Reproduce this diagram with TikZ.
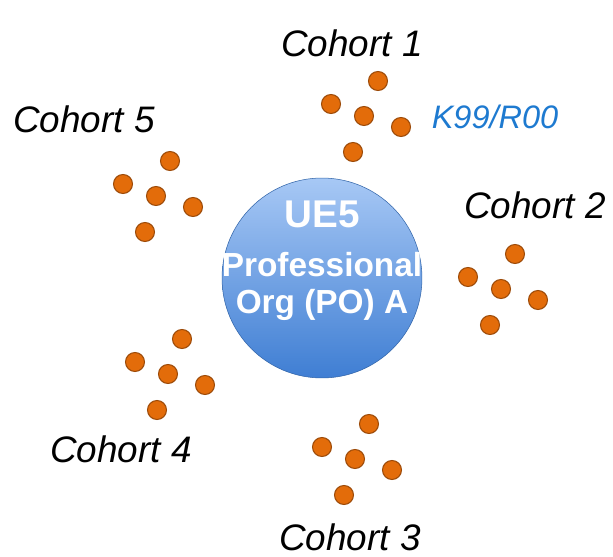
\documentclass[tikz,border=0pt]{standalone}
\usepackage{fontspec}
\setmainfont{Liberation Sans}
\usetikzlibrary{positioning}
\definecolor{dotorange}{HTML}{E36C0A}
\definecolor{dotrim}{HTML}{9C4A08}
\definecolor{orgtop}{HTML}{A7C8F5}
\definecolor{orgbot}{HTML}{3F7ED3}
\definecolor{kblue}{HTML}{1E7AD0}
\tikzset{
  member/.style={circle, fill=dotorange, draw=dotrim, line width=0.6pt, minimum size=0.38cm, inner sep=0pt},
  cohortlabel/.style={font=\itshape\fontsize{21}{24}\selectfont},
}
\begin{document}
\begin{tikzpicture}[x=0.02cm,y=-0.02cm]
			%%%	Frame
			\useasboundingbox (0,0) rectangle (613,557);
			%%%	Organisation
			\node [circle, minimum size=4cm, top color=orgtop, bottom color=orgbot, draw=orgbot!80!black, line width=0.3pt] (org) at (322,278) {};
			\node [text=white, font=\bfseries\fontsize{22}{24}\selectfont] (ue) at (322,214) {UE5};
			\node [text=white, font=\bfseries\fontsize{19}{22}\selectfont] (prof) at (322,265) {Professional};
			\node [text=white, font=\bfseries\fontsize{19}{22}\selectfont] (po) at (322,305) {Org (PO) A};
			%%%	Cohorts
			\foreach \name/\x/\y in {one/378/81, five/170/161, two/515/254, four/182/339, three/369/424}
			{
			\node [member] (\name a) at (\x,\y) {};
			\node [member] (\name b) at (\x-47,\y+23) {};
			\node [member] (\name c) at (\x-14,\y+35) {};
			\node [member] (\name d) at (\x+23,\y+46) {};
			\node [member] (\name e) at (\x-25,\y+71) {};
			}
			\node [cohortlabel] (lone) at (352,43) {Cohort 1};
			\node [cohortlabel] (ltwo) at (535,205) {Cohort 2};
			\node [cohortlabel] (lthree) at (350,537) {Cohort 3};
			\node [cohortlabel] (lfour) at (121,449) {Cohort 4};
			\node [cohortlabel] (lfive) at (84,119) {Cohort 5};
			\node [text=kblue, font=\itshape\fontsize{18.5}{22}\selectfont] (kay) at (495,117) {K99/R00};
		\end{tikzpicture}
\end{document}
